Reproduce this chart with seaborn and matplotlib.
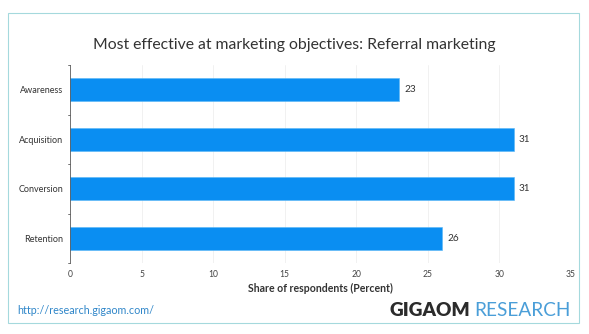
import matplotlib
matplotlib.use("Agg")
import matplotlib.pyplot as plt
import seaborn as sns
import pandas as pd
from matplotlib.patches import Rectangle

categories = ["Awareness", "Acquisition", "Conversion", "Retention"]
values = [23, 31, 31, 26]
xticks = [0, 5, 10, 15, 20, 25, 30, 35]

title = "Most effective at marketing objectives: Referral marketing"
xlabel = "Share of respondents (Percent)"
url = "http://research.gigaom.com/"

sns.set_theme(style="white")
plt.rcParams['font.family'] = ['Lato', 'DejaVu Sans']

DPI = 72
W, H = 589, 334
fig = plt.figure(figsize=(W / DPI, H / DPI), dpi=DPI)
fig.patch.set_facecolor("white")

# outer frame
fig.patches.append(Rectangle((8 / W, 1 - 323 / H), (579 - 8) / W, (323 - 13) / H,
                             transform=fig.transFigure, fill=False,
                             edgecolor="#a5d9dd", linewidth=1.1))

ax = fig.add_axes([70 / W, 1 - 263 / H, (571 - 70) / W, (263 - 65) / H])

df = pd.DataFrame({"category": categories, "value": values})
sns.barplot(data=df, x="value", y="category", ax=ax, color="#0a8ef2",
            saturation=1, width=0.47, edgecolor="#5cb8f7", linewidth=0.6)

ax.set_xlim(0, 35)
ax.set_ylim(3.5, -0.5)
ax.set_xticks(xticks)
ax.set_xticklabels([str(t) for t in xticks], fontsize=8.5, color="#444444")
ax.tick_params(axis="x", length=0, pad=7)
ax.tick_params(axis="y", length=0, pad=7, labelsize=9, labelcolor="#333333")
ax.grid(axis="x", color="#eeeeee", linewidth=0.8)
ax.set_axisbelow(True)
for s in ["top", "right", "bottom"]:
    ax.spines[s].set_visible(False)
ax.spines["left"].set_color("#555555")
ax.spines["left"].set_linewidth(0.8)

# small boundary ticks on the y axis
for b in [-0.5, 0.5, 1.5, 2.5, 3.5]:
    ax.plot([-0.12, 0], [b, b], color="#555555", linewidth=0.8, clip_on=False,
            transform=ax.transData)

ax.set_xlabel(xlabel, fontsize=10.5, fontweight="bold", color="#333333", labelpad=4)
ax.set_ylabel("")

for i, v in enumerate(values):
    ax.text(v + 0.35, i, str(v), va="center", ha="left", fontsize=10, color="#333333")

fig.text(294 / W, 1 - 45 / H, title, ha="center", va="center",
         fontsize=15.7, color="#333333")
fig.text(17 / W, 1 - 311 / H, url, ha="left", va="center", fontsize=10.8,
         color="#2f86c9")

t1 = fig.text(389 / W, 1 - 311 / H, "GIGAOM", ha="left", va="center",
              fontsize=19, fontweight="heavy", color="#2b2b2b")
fig.canvas.draw()
bb = t1.get_window_extent()
t2 = fig.text(bb.x1 / W + 4 / W, 1 - 311 / H, "RESEARCH", ha="left", va="center",
              fontsize=19, color="#4a9ed8")

fig.savefig("out.png", dpi=DPI, facecolor="white")
